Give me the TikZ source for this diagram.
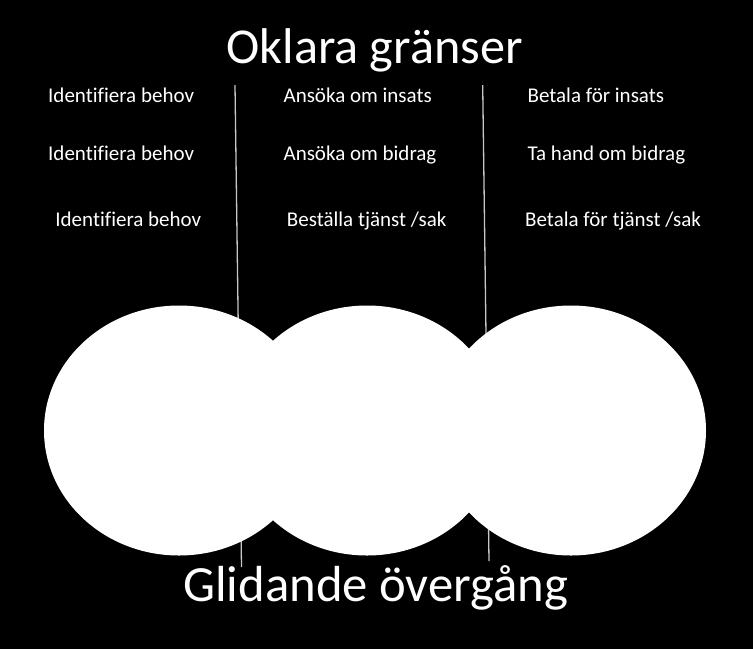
\documentclass[tikz,border=0pt]{standalone}
\usepackage{fontspec}
\setmainfont[Ligatures=NoCommon]{Carlito}
\usetikzlibrary{shapes.geometric}
\begin{document}
\begin{tikzpicture}[x=1pt,y=-1pt,
  blob/.style={ellipse,fill=white,draw=none,minimum width=270pt,minimum height=250pt,inner sep=0pt},
  divider/.style={draw=white!78!black,line width=1.3pt},
  small/.style={text=white,anchor=base west,inner sep=0pt,font=\fontsize{21}{25}\selectfont},
  big/.style={text=white,anchor=base,inner sep=0pt}]
\fill[black] (0,0) rectangle (753,649);
\useasboundingbox (0,0) rectangle (753,649);
% dividers (behind the ellipses)
\coordinate (d1a) at (235,85);
\coordinate (d1b) at (241.5,567);
\coordinate (d2a) at (482.7,85);
\coordinate (d2b) at (489,561);
\draw[divider] (d1a) -- (d1b);
\draw[divider] (d2a) -- (d2b);
% ellipses
\node[blob] (e1) at (179,430.5) {};
\node[blob] (e2) at (367,430.5) {};
\node[blob] (e3) at (571,430.5) {};
% titles
\node[big,font=\fontsize{50.2}{58}\selectfont] (top) at (374.5,63.3) {Oklara gränser};
\node[big,font=\fontsize{50.7}{58}\selectfont] (bottom) at (375.8,601.7) {Glidande övergång};
% row 1
\node[small] (r1a) at (48,102.5) {Identifiera behov};
\node[small] (r1b) at (283.4,102.5) {Ansöka om insats};
\node[small] (r1c) at (527.4,102.5) {Betala för insats};
% row 2
\node[small] (r2a) at (48,160.7) {Identifiera behov};
\node[small] (r2b) at (283.4,160.7) {Ansöka om bidrag};
\node[small] (r2c) at (527.4,160.7) {Ta hand om bidrag};
% row 3
\node[small] (r3a) at (55.2,226) {Identifiera behov};
\node[small] (r3b) at (286.7,226) {Beställa tjänst /sak};
\node[small] (r3c) at (525,226) {Betala för tjänst /sak};
\end{tikzpicture}
\end{document}
